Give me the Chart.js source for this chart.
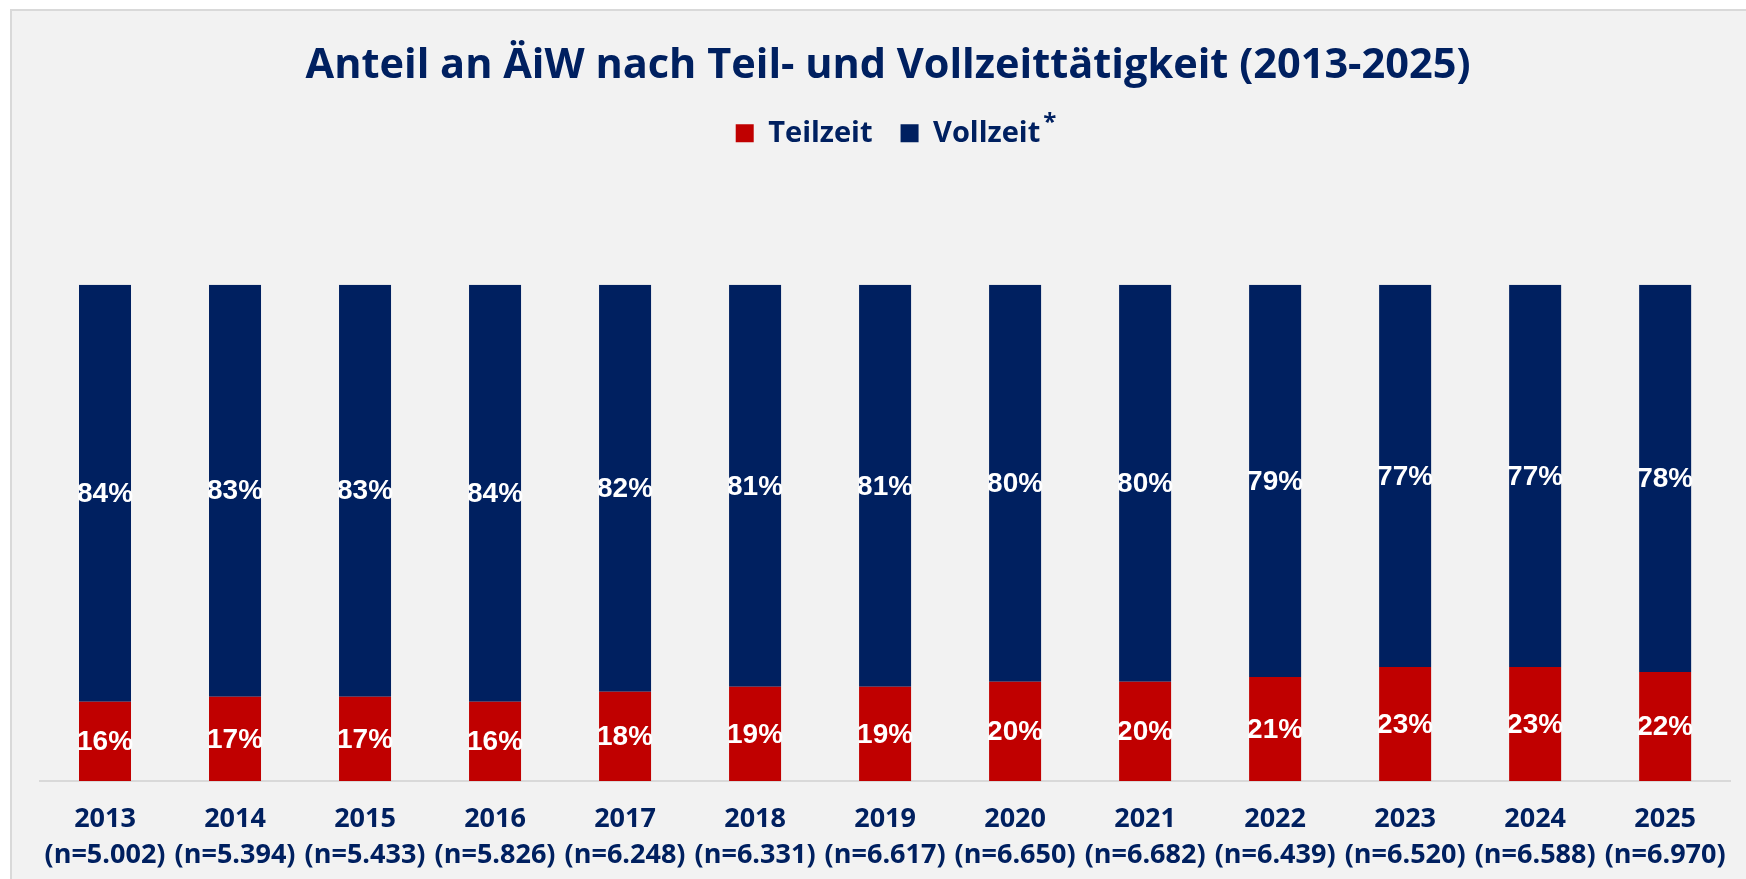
<!DOCTYPE html>
<html lang="de">
<head>
  <meta charset="UTF-8" />
  <title>Anteil an ÄiW nach Teil- und Vollzeittätigkeit</title>
  <script src="https://cdn.jsdelivr.net/npm/chart.js"></script>
  <style>
    html, body { margin: 0; padding: 0; background: #ffffff; }
    #panel {
      position: absolute; left: 10px; top: 9px; width: 1736px; height: 870px;
      box-sizing: border-box; background: #f2f2f2;
      border-top: 2px solid #d9d9d9; border-left: 2px solid #d9d9d9;
    }
    #wrap { position: relative; width: 100%; height: 100%; }
  </style>
</head>
<body>
  <div id="panel"><div id="wrap"><canvas id="grafico"></canvas></div></div>

  <script>
    const jahre = ['2013', '2014', '2015', '2016', '2017', '2018', '2019', '2020', '2021', '2022', '2023', '2024', '2025'];
    const fallzahlen = ['5.002', '5.394', '5.433', '5.826', '6.248', '6.331', '6.617', '6.650', '6.682', '6.439', '6.520', '6.588', '6.970'];
    const teilzeit = [16, 17, 17, 16, 18, 19, 19, 20, 20, 21, 23, 23, 22];
    const vollzeit = [84, 83, 83, 84, 82, 81, 81, 80, 80, 79, 77, 77, 78];

    const navy = '#002060';
    const rot = '#c00000';

    const labels = jahre.map((j, i) => [j, '(n=' + fallzahlen[i] + ')']);

    // Platz zwischen Legende und Diagramm
    const legendAbstand = {
      id: 'legendAbstand',
      beforeInit(chart) {
        const fit = chart.legend.fit;
        chart.legend.fit = function () {
          fit.bind(chart.legend)();
          this.height += 127;
        };
      }
    };

    // Prozentwerte in den Balken
    const werteLabels = {
      id: 'werteLabels',
      afterDatasetsDraw(chart) {
        const ctx = chart.ctx;
        ctx.save();
        ctx.font = 'bold 28px "Liberation Sans", Arial, sans-serif';
        ctx.fillStyle = '#ffffff';
        ctx.textAlign = 'center';
        ctx.textBaseline = 'middle';
        chart.data.datasets.forEach((ds, di) => {
          chart.getDatasetMeta(di).data.forEach((bar, i) => {
            ctx.fillText(ds.data[i] + '%', bar.x, (bar.y + bar.base) / 2 + 1);
          });
        });
        ctx.restore();
      }
    };

    // hochgestelltes Sternchen hinter "Vollzeit"
    const sternchen = {
      id: 'sternchen',
      afterDraw(chart) {
        const box = chart.legend.legendHitBoxes[1];
        if (!box) return;
        const ctx = chart.ctx;
        ctx.save();
        ctx.font = 'bold 24px "Open Sans", sans-serif';
        ctx.fillStyle = navy;
        ctx.textBaseline = 'top';
        ctx.fillText('*', box.left + box.width + 3, box.top - 8);
        ctx.restore();
      }
    };

    new Chart(document.getElementById('grafico'), {
      type: 'bar',
      data: {
        labels: labels,
        datasets: [
          { label: 'Teilzeit', data: teilzeit, backgroundColor: rot },
          { label: 'Vollzeit', data: vollzeit, backgroundColor: navy }
        ]
      },
      options: {
        responsive: true,
        maintainAspectRatio: false,
        animation: false,
        layout: { padding: { top: 0, left: 28, right: 10, bottom: -15 } },
        datasets: { bar: { categoryPercentage: 1, barPercentage: 0.4 } },
        plugins: {
          title: {
            display: true,
            text: 'Anteil an ÄiW nach Teil- und Vollzeittätigkeit (2013-2025)',
            color: navy,
            font: { family: '"Open Sans", sans-serif', size: 41.5, weight: 'bold', lineHeight: 1.2 },
            padding: { top: 30, bottom: 0 }
          },
          legend: {
            position: 'top',
            labels: {
              color: navy,
              font: { family: '"Open Sans", sans-serif', size: 29, weight: 'bold' },
              boxWidth: 18,
              boxHeight: 18,
              padding: 28
            }
          },
          tooltip: { enabled: false }
        },
        scales: {
          x: {
            stacked: true,
            grid: { display: false, drawTicks: false },
            border: { display: true, color: '#d9d9d9', width: 2 },
            ticks: {
              color: navy,
              font: { family: '"Open Sans", sans-serif', size: 27, weight: 'bold', lineHeight: 1.35 },
              padding: 20,
              autoSkip: false,
              maxRotation: 0,
              minRotation: 0
            }
          },
          y: {
            stacked: true,
            display: false,
            min: 0,
            max: 100
          }
        }
      },
      plugins: [legendAbstand, werteLabels, sternchen]
    });
  </script>
</body>
</html>
